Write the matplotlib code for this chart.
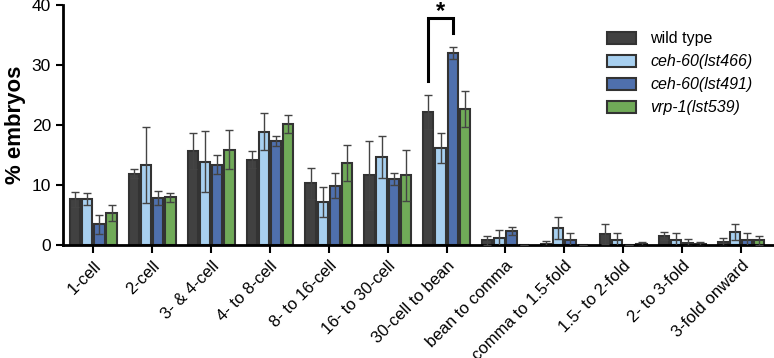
import matplotlib
matplotlib.use("Agg")
import matplotlib.pyplot as plt
import numpy as np
from matplotlib.patches import Patch

plt.rcParams['font.family'] = ['Liberation Sans', 'DejaVu Sans']

categories = ["1-cell", "2-cell", "3- & 4-cell", "4- to 8-cell", "8- to 16-cell",
              "16- to 30-cell", "30-cell to bean", "bean to comma", "comma to 1.5-fold",
              "1.5- to 2-fold", "2- to 3-fold", "3-fold onward"]
series_names = ["wild type", "ceh-60(lst466)", "ceh-60(lst491)", "vrp-1(lst539)"]

wt_mean = [7.6, 11.9, 15.6, 14.2, 10.3, 11.6, 22.2, 0.75, 0.17, 1.8, 1.5, 0.5]
wt_err = [1.3, 0.7, 3.0, 1.4, 2.6, 5.8, 2.8, 0.7, 0.4, 1.6, 0.7, 0.7]
lb_mean = [7.6, 13.3, 13.9, 18.9, 7.2, 14.6, 16.2, 1.1, 2.8, 0.8, 0.8, 2.1]
lb_err = [1.0, 6.4, 5.1, 3.1, 2.5, 3.5, 2.5, 1.4, 1.8, 1.1, 1.1, 1.3]
bl_mean = [3.4, 7.8, 13.4, 17.3, 9.9, 11.0, 32.0, 2.3, 0.8, 0.0, 0.35, 0.8]
bl_err = [1.6, 1.2, 1.6, 0.8, 2.1, 1.0, 1.0, 0.6, 1.1, 0.0, 0.55, 1.1]
gr_mean = [5.3, 7.9, 15.9, 20.2, 13.6, 11.6, 22.6, 0.0, 0.0, 0.1, 0.2, 0.73]
gr_err = [1.4, 0.7, 3.3, 1.5, 3.0, 4.3, 3.0, 0.0, 0.0, 0.35, 0.35, 0.75]

means = [wt_mean, lb_mean, bl_mean, gr_mean]
errs = [wt_err, lb_err, bl_err, gr_err]
colors = ["#414141", "#a8d0f0", "#4f70ad", "#70aa58"]
edge = "#333333"

fig = plt.figure(figsize=(7.74, 3.58), dpi=100)
ax = fig.add_axes([0.081, 0.316, 0.919, 0.670])

x = np.arange(len(categories))
spacing = 0.207
width = 0.175
for i in range(4):
    pos = x + (i - 1.5) * spacing
    ax.bar(pos, means[i], width=width, color=colors[i], edgecolor=edge, linewidth=1.5, zorder=2)
    ax.errorbar(pos, means[i], yerr=errs[i], fmt='none', ecolor="#444444",
                elinewidth=1.0, capsize=3, capthick=1.0, zorder=3)

# significance bracket
x1 = 6 + (0 - 1.5) * spacing
x2 = 6 + (2 - 1.5) * spacing
ax.plot([x1, x1, x2, x2], [27.3, 37.8, 37.8, 35.4], color="black", lw=2.2, zorder=4,
        solid_joinstyle='miter', clip_on=False)
ax.text((x1 + x2) / 2, 40.75, "*", ha="center", va="top", fontsize=17, fontweight="bold",
        clip_on=False)

ax.set_xlim(-0.52, 11.56)
ax.set_ylim(0, 40)
ax.set_yticks([0, 10, 20, 30, 40])
ax.set_xticks(x)
ax.set_xticklabels(categories, rotation=45, ha="right", rotation_mode="anchor", fontsize=12)
ax.tick_params(axis='y', labelsize=12.5, width=1.5, length=5)
ax.tick_params(axis='x', width=1.5, length=6)
for s in ["top", "right"]:
    ax.spines[s].set_visible(False)
for s in ["left", "bottom"]:
    ax.spines[s].set_linewidth(2)
ax.set_ylabel("% embryos", fontsize=16, fontweight="bold", labelpad=4)

handles = [Patch(facecolor=colors[i], edgecolor=edge, linewidth=1.5) for i in range(4)]
leg = ax.legend(handles, series_names, loc="upper right", bbox_to_anchor=(0.99, 0.95),
                frameon=False, fontsize=11.5, handlelength=1.8, handleheight=0.8,
                handletextpad=0.9, labelspacing=0.5)
for t in leg.get_texts()[1:]:
    t.set_fontstyle("italic")

fig.savefig("out.png", dpi=100)
